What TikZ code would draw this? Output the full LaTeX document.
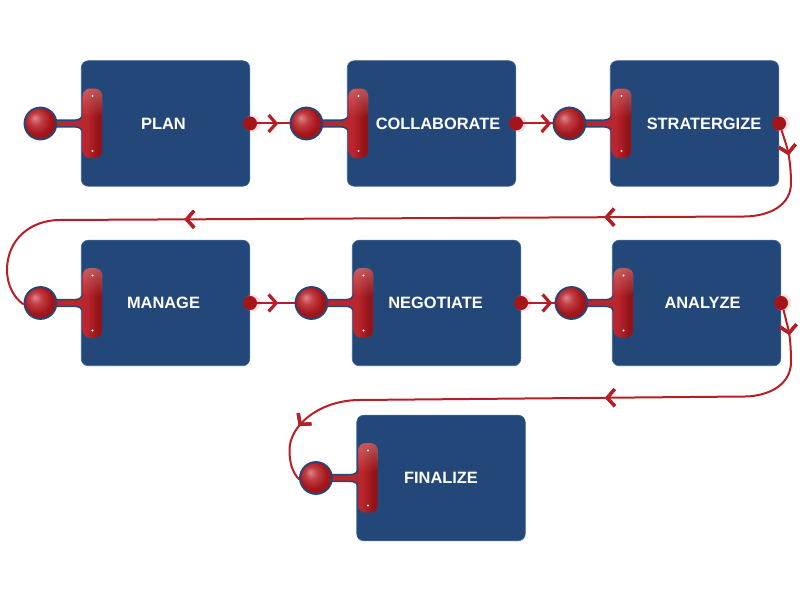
\documentclass[tikz,border=0pt]{standalone}
\usepackage{xcolor}
\usepackage{fontspec}
\setmainfont{Liberation Sans}
\usetikzlibrary{arrows.meta, calc, decorations.markings, fadings}
\definecolor{boxblue}{HTML}{24477A}
\definecolor{boxedge}{HTML}{3F6294}
\definecolor{handlered}{HTML}{BA262D}
\definecolor{darkred}{HTML}{A31519}
\definecolor{flowred}{HTML}{B71F27}
\pgfdeclareradialshading{ballshade}{\pgfpoint{-9bp}{9bp}}{color(0bp)=(handlered!55!white); color(10bp)=(handlered!90!white); color(22bp)=(darkred); color(50bp)=(darkred!85!black)}
\pgfdeclarehorizontalshading{barshade}{100bp}{color(0bp)=(handlered); color(35bp)=(handlered); color(65bp)=(darkred!90!black); color(85bp)=(darkred!95!black); color(100bp)=(handlered)}
\tikzset{
  stepbox/.style={draw=boxedge, line width=0.6pt, fill=boxblue, rounded corners=7pt, minimum width=168.5pt, minimum height=125.5pt, inner sep=0pt, text=white, font=\fontsize{16.4}{18}\selectfont\bfseries},
  stepbar/.style={shading=barshade, rounded corners=7.5pt, minimum width=19.5pt, minimum height=69.5pt, inner sep=0pt},
  stepball/.style={circle, draw=boxblue, line width=1.8pt, shading=ballshade, minimum size=32pt, inner sep=0pt},
  stepout/.style={circle, fill=darkred, minimum size=14pt, inner sep=0pt},
  stepstem/.style={draw=boxblue, line width=1.5pt, fill=handlered},
  flowline/.style={draw=flowred, line width=2pt},
  chevron/.style={decoration={markings, mark=at position #1 with {\arrow{>}}}, postaction={decorate}},
  >={Straight Barb[length=7.5pt, width=17pt, line width=3.2pt]},
}
\begin{document}
\begin{tikzpicture}[x=1pt, y=-1pt]
  \useasboundingbox (0,0) rectangle (801,601);
  \node[stepbox] (plan) at (165.5,123.5) {\hspace*{-4pt}PLAN};
  \node[stepbox] (collaborate) at (431.5,123.5) {\hspace*{13pt}COLLABORATE};
  \node[stepbox] (strategize) at (694.5,123.5) {\hspace*{19pt}STRATERGIZE};
  \node[stepbox] (manage) at (165.5,303) {\hspace*{-4pt}MANAGE};
  \node[stepbox] (negotiate) at (436.5,303) {\hspace*{-2pt}NEGOTIATE};
  \node[stepbox] (analyze) at (696.5,303) {\hspace*{12pt}ANALYZE};
  \node[stepbox] (finalize) at (441,478) {FINALIZE};
  % handle on the left edge of every box
  \foreach \step in {plan,collaborate,strategize,manage,negotiate,analyze,finalize}{
    \begin{scope}[shift={(\step.west)}]
      \draw[stepstem] (-29,-7) .. controls (-27,-3.3) .. (-22,-3.3) -- (-7,-3.3) .. controls (-2,-3.3) and (2,-5) .. (2,-11) -- (2,11) .. controls (2,5) and (-2,3.3) .. (-7,3.3) -- (-22,3.3) .. controls (-27,3.3) .. (-29,7) -- cycle;
    \end{scope}
    \node[stepbar] (\step bar) at ($(\step.west)+(11.5,0)$) {};
    \fill[handlered!55!white, path fading=south, rounded corners=7.5pt, opacity=0.55] (\step bar.north west) rectangle ($(\step bar.east)+(0,-6)$);
    \fill[white] ($(\step bar)+(0,-27.5)$) circle (1.1);
    \fill[white] ($(\step bar)+(0,27.5)$) circle (1.1);
    \node[stepball] (\step ball) at ($(\step.west)+(-40.5,0)$) {};
  }
  \foreach \step in {plan,collaborate,strategize,manage,negotiate,analyze}{
    \fill[red!50!white, opacity=0.25] ($(\step.east)+(2,0)$) circle (8.5);
    \node[stepout] (\step out) at (\step.east) {};
  }
  % connectors
  \draw[flowline, chevron=21pt] (planout) -- (collaborateball);
  \draw[flowline, chevron=28pt] (collaborateout) -- (strategizeball);
  \draw[flowline, chevron=21pt] (manageout) -- (negotiateball);
  \draw[flowline, chevron=24pt] (negotiateout) -- (analyzeball);
  \draw[flowline, chevron=26pt, chevron=258pt, chevron=678pt] (strategizeout.-70) -- (786,144) .. controls (789,153) and (791,168) .. (791,183) .. controls (791,205) and (770,216) .. (745,216.5) -- (60,220) .. controls (30,220) and (7,240) .. (7,270) .. controls (7,285) and (14,298) .. (manageball.185);
  \draw[flowline, chevron=26pt, chevron=257pt, chevron=-58pt] (analyzeout.-70) -- (787,324) .. controls (790,333) and (791,348) .. (791,362) .. controls (791,384) and (770,396) .. (745,396.5) -- (360,400) .. controls (320,400) and (289.5,425) .. (289.5,450) .. controls (289.5,462) and (292,472) .. (finalizeball.185);
\end{tikzpicture}
\end{document}
